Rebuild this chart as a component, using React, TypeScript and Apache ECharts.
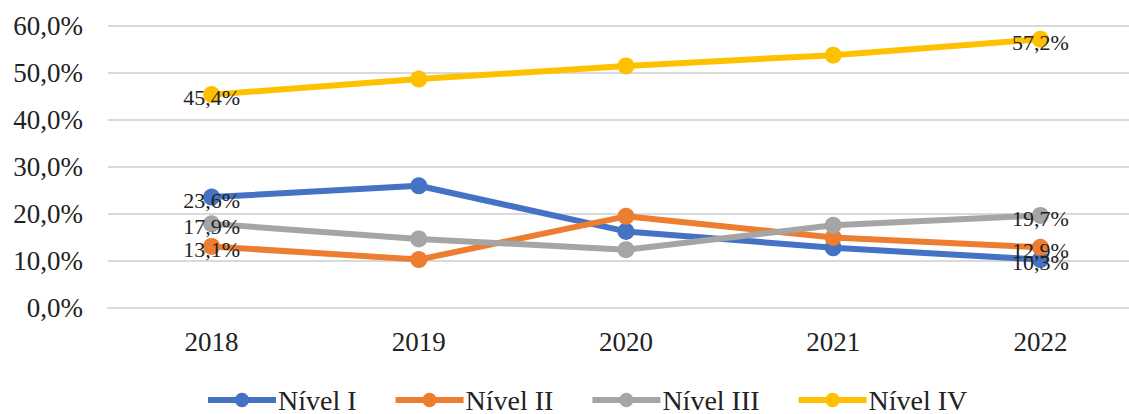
import React, { useEffect, useRef } from "react";
import * as echarts from "echarts";

const years = ["2018", "2019", "2020", "2021", "2022"];
const seriesNames = ["Nível I", "Nível II", "Nível III", "Nível IV"];
const nivelI = [23.6, 26.0, 16.3, 12.8, 10.3];
const nivelII = [13.1, 10.3, 19.5, 15.0, 12.9];
const nivelIII = [17.9, 14.7, 12.4, 17.6, 19.7];
const nivelIV = [45.4, 48.7, 51.5, 53.8, 57.2];
const colors = ["#4472C4", "#ED7D31", "#A5A5A5", "#FFC000"];

const FONT = "Liberation Serif";
const fmt = (v: number) => v.toFixed(1).replace(".", ",") + "%";

export default function App() {
  const ref = useRef<HTMLDivElement>(null);
  useEffect(() => {
    if (!ref.current) return;
    const chart = echarts.init(ref.current, null, { renderer: "svg" });
    const all = [nivelI, nivelII, nivelIII, nivelIV];
    chart.setOption({
      animation: false,
      color: colors,
      textStyle: { fontFamily: FONT },
      grid: { left: 108, right: 0, top: 26, bottom: 106, containLabel: false },
      legend: {
        data: seriesNames,
        left: 200,
        top: 381,
        itemWidth: 68,
        itemHeight: 18,
        itemGap: 36,
        lineStyle: { width: 6 },
        textStyle: {
          fontFamily: FONT,
          fontSize: 28,
          lineHeight: 24,
          color: "#222",
          padding: [0, 0, 0, -3],
        },
      },
      xAxis: {
        type: "category",
        data: years,
        boundaryGap: true,
        axisLine: { show: true, lineStyle: { color: "#d9d9d9", width: 2 } },
        axisTick: { show: false },
        axisLabel: { fontFamily: FONT, fontSize: 27, color: "#222", margin: 20 },
      },
      yAxis: {
        type: "value",
        min: 0,
        max: 60,
        interval: 10,
        axisLine: { show: false },
        axisTick: { show: false },
        splitLine: { lineStyle: { color: "#d9d9d9", width: 2 } },
        axisLabel: {
          fontFamily: FONT,
          fontSize: 27,
          color: "#222",
          margin: 25,
          formatter: (v: number) => fmt(v),
        },
      },
      series: all.map((vals, si) => ({
        name: seriesNames[si],
        type: "line",
        symbol: "circle",
        symbolSize: 17,
        lineStyle: { width: 6, color: colors[si] },
        itemStyle: { color: colors[si] },
        data: vals.map((v, i) => ({
          value: v,
          label: {
            show: i === 0 || i === vals.length - 1,
            position: "inside",
            offset: [0, 3],
            fontFamily: FONT,
            fontSize: 22,
            color: "#222",
            formatter: (p: any) => fmt(p.value),
          },
        })),
      })),
    });
    return () => chart.dispose();
  }, []);
  return (
    <div
      ref={ref}
      style={{ position: "fixed", left: 0, top: 0, width: 1144, height: 414, background: "#fff" }}
    />
  );
}
